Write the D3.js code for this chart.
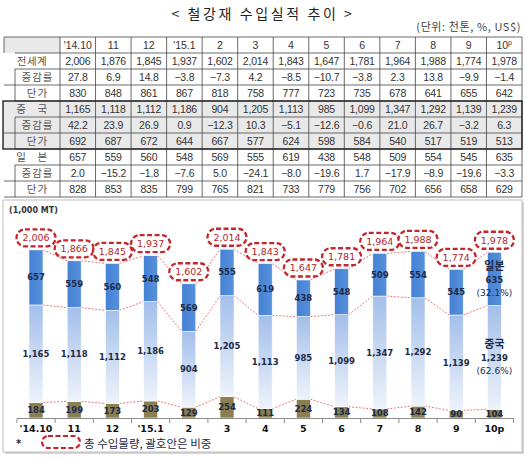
<!DOCTYPE html>
<html>
<head>
<meta charset="utf-8">
<script src="https://cdn.jsdelivr.net/npm/d3@7"></script>
<style>
body { margin: 0; background: #fff; }
svg { display: block; }
</style>
</head>
<body>
<div id="chart"></div>
<script>
/*global d3*/

// ---- data ----
var months = ["'14.10", "11", "12", "'15.1", "2", "3", "4", "5", "6", "7", "8", "9", "10p"];
var tableHeads = ["'14.10", "11", "12", "'15.1", "2", "3", "4", "5", "6", "7", "8", "9", "10"];

var worldVol = [2006, 1876, 1845, 1937, 1602, 2014, 1843, 1647, 1781, 1964, 1988, 1774, 1978];
var worldChg = [27.8, 6.9, 14.8, -3.8, -7.3, 4.2, -8.5, -10.7, -3.8, 2.3, 13.8, -9.9, -1.4];
var worldPrice = [830, 848, 861, 867, 818, 758, 777, 723, 735, 678, 641, 655, 642];

var chinaVol = [1165, 1118, 1112, 1186, 904, 1205, 1113, 985, 1099, 1347, 1292, 1139, 1239];
var chinaChg = [42.2, 23.9, 26.9, 0.9, -12.3, 10.3, -5.1, -12.6, -0.6, 21.0, 26.7, -3.2, 6.3];
var chinaPrice = [692, 687, 672, 644, 667, 577, 624, 598, 584, 540, 517, 519, 513];

var japanVol = [657, 559, 560, 548, 569, 555, 619, 438, 548, 509, 554, 545, 635];
var japanChg = [2.0, -15.2, -1.8, -7.6, 5.0, -24.1, -8.0, -19.6, 1.7, -17.9, -8.9, -19.6, -3.3];
var japanPrice = [828, 853, 835, 799, 765, 821, 733, 779, 756, 702, 656, 658, 629];

// chart only: remaining countries and the circled totals as printed on the chart
var otherVol = [184, 199, 173, 203, 129, 254, 111, 224, 134, 108, 142, 90, 104];
var chartTotal = [2006, 1866, 1845, 1937, 1602, 2014, 1843, 1647, 1781, 1964, 1988, 1774, 1978];

var W = 527, H = 459;
var krFont = "'Noto Sans CJK KR', sans-serif";
var numFont = "'Liberation Sans', Arial, sans-serif";
var barFont = "'DejaVu Sans', Verdana, sans-serif";

var svg = d3.select('#chart').append('svg')
	.attr('width', W).attr('height', H);

var defs = svg.append('defs');

function drawTitle() {
	svg.append('text')
		.attr('x', 263).attr('y', 19)
		.attr('text-anchor', 'middle')
		.style('font-family', krFont).style('font-size', '14px')
		.style('letter-spacing', '2.6px').attr('fill', '#222')
		.text('< 철강재 수입실적 추이 >');

	svg.append('text')
		.attr('x', 521).attr('y', 31)
		.attr('text-anchor', 'end')
		.style('font-family', krFont).style('font-size', '11px')
		.style('letter-spacing', '0.6px')
		.attr('fill', '#444')
		.text('(단위: 천톤, %, US$)');
}

function drawTable() {
	var fVol = d3.format(','), fChg = d3.format('.1f'), fPrice = d3.format('d');
	var rows = [
		{label: '전세계', values: worldVol, fmt: fVol, sub: false},
		{label: '증감률', values: worldChg, fmt: fChg, sub: true},
		{label: '단가', values: worldPrice, fmt: fPrice, sub: true},
		{label: '중　국', values: chinaVol, fmt: fVol, sub: false},
		{label: '증감률', values: chinaChg, fmt: fChg, sub: true},
		{label: '단가', values: chinaPrice, fmt: fPrice, sub: true},
		{label: '일　본', values: japanVol, fmt: fVol, sub: false},
		{label: '증감률', values: japanChg, fmt: fChg, sub: true},
		{label: '단가', values: japanPrice, fmt: fPrice, sub: true}
	];

	var top = 37, rowH = 16, left = 4, labelW = 56, right = 522, subLeft = 15;
	var col = d3.scaleBand().domain(tableHeads.map(function(d, i) { return i; }))
		.range([left + labelW, right]);
	var rowY = function(i) { return top + rowH * (i + 1); };
	var bottom = rowY(rows.length);

	var g = svg.append('g').attr('class', 'table');

	// china block shading
	g.append('rect')
		.attr('x', 3).attr('y', rowY(3))
		.attr('width', right - 3).attr('height', rowH * 3)
		.attr('fill', '#e9e9e9');

	// header label cell
	g.append('rect')
		.attr('x', left).attr('y', top)
		.attr('width', labelW).attr('height', rowH)
		.attr('fill', '#e9e9e9');

	// horizontal lines
	g.append('line').attr('x1', left).attr('x2', right).attr('y1', top).attr('y2', top);
	g.selectAll('line.h').data(rows).enter().append('line')
		.attr('class', 'h')
		.attr('x1', function(d, i) {
			var next = rows[i + 1];
			return (i === rows.length - 1) ? left : (next && next.sub ? subLeft : left);
		})
		.attr('x2', right)
		.attr('y1', function(d, i) { return rowY(i); })
		.attr('y2', function(d, i) { return rowY(i); });
	g.append('line').attr('x1', left).attr('x2', right).attr('y1', bottom).attr('y2', bottom);

	// vertical lines
	g.selectAll('line.v').data(tableHeads).enter().append('line')
		.attr('class', 'v')
		.attr('x1', function(d, i) { return col(i); })
		.attr('x2', function(d, i) { return col(i); })
		.attr('y1', top).attr('y2', bottom);
	g.append('line').attr('x1', left).attr('x2', left).attr('y1', top).attr('y2', top + rowH);
	g.append('line').attr('x1', right).attr('x2', right).attr('y1', top).attr('y2', bottom);

	// sub label boxes
	g.selectAll('line.s').data(rows.filter(function(d) { return d.sub; })).enter().append('line')
		.attr('class', 's')
		.attr('x1', subLeft).attr('x2', subLeft)
		.attr('y1', function(d) { return rowY(rows.indexOf(d)); })
		.attr('y2', function(d) { return rowY(rows.indexOf(d)) + rowH; });

	g.selectAll('line').attr('stroke', '#444').attr('stroke-width', 0.8);

	// china block frame
	g.append('rect')
		.attr('x', 3).attr('y', rowY(3))
		.attr('width', right - 3).attr('height', rowH * 3)
		.attr('fill', 'none').attr('stroke', '#222').attr('stroke-width', 1.4);

	// header texts
	var head = g.selectAll('text.head').data(tableHeads).enter().append('text')
		.attr('class', 'head')
		.attr('x', function(d, i) { return col(i) + col.bandwidth() / 2; })
		.attr('y', top + rowH / 2 + 4)
		.attr('text-anchor', 'middle')
		.style('font-family', numFont).style('font-size', '10.5px')
		.attr('fill', '#333')
		.text(function(d) { return d; });
	head.filter(function(d, i) { return i === tableHeads.length - 1; })
		.append('tspan').attr('dy', -4).style('font-size', '7px').text('p');

	// row labels
	g.selectAll('text.lab').data(rows).enter().append('text')
		.attr('class', 'lab')
		.attr('x', function(d) { return d.sub ? (subLeft + left + labelW) / 2 : left + labelW / 2; })
		.attr('y', function(d, i) { return rowY(i) + rowH / 2 + 4; })
		.attr('text-anchor', 'middle')
		.style('font-family', krFont).style('font-size', '10.5px')
		.style('letter-spacing', function(d) { return d.sub ? '1px' : '0.5px'; })
		.attr('fill', '#555')
		.text(function(d) { return d.label; });

	// cell values
	rows.forEach(function(r, ri) {
		g.selectAll('text.r' + ri).data(r.values).enter().append('text')
			.attr('class', 'r' + ri)
			.attr('x', function(d, i) { return col(i) + col.bandwidth() / 2; })
			.attr('y', rowY(ri) + rowH / 2 + 4)
			.attr('text-anchor', 'middle')
			.style('font-family', numFont).style('font-size', '10.5px')
			.style('letter-spacing', '-0.2px')
			.attr('fill', '#333')
			.text(function(d) { return r.fmt(d); });
	});
}

function drawChart() {
	var panel = {x: 3, y: 200, w: 519, h: 252};
	svg.append('rect')
		.attr('x', panel.x + 2).attr('y', panel.y + 2)
		.attr('width', panel.w).attr('height', panel.h)
		.attr('fill', '#d4d4d4');
	svg.append('rect')
		.attr('x', panel.x).attr('y', panel.y)
		.attr('width', panel.w).attr('height', panel.h)
		.attr('fill', '#fff').attr('stroke', '#bdbdbd').attr('stroke-width', 1);

	svg.append('text')
		.attr('x', 9).attr('y', 213)
		.style('font-family', barFont).style('font-size', '8px').style('font-weight', 'bold')
		.attr('fill', '#333')
		.text('(1,000 MT)');

	var grad = defs.append('linearGradient').attr('id', 'chinaGrad')
		.attr('x1', 0).attr('y1', 0).attr('x2', 0).attr('y2', 1);
	grad.append('stop').attr('offset', '0%').attr('stop-color', '#a3bfea');
	grad.append('stop').attr('offset', '100%').attr('stop-color', '#eef3fb');

	var jGrad = defs.append('linearGradient').attr('id', 'japanGrad')
		.attr('x1', 0).attr('y1', 0).attr('x2', 1).attr('y2', 0);
	jGrad.append('stop').attr('offset', '0%').attr('stop-color', '#4581d4');
	jGrad.append('stop').attr('offset', '100%').attr('stop-color', '#5791dc');

	var x = d3.scaleBand().domain(months)
		.range([16.9, 513.5]).paddingInner(0.633).paddingOuter(0.3165);
	var y = d3.scaleLinear().domain([0, 2500]).range([418, 418 - 2500 * 0.0838]);
	var bw = x.bandwidth();

	var stacks = months.map(function(m, i) {
		var o = otherVol[i], c = chinaVol[i], j = japanVol[i];
		return {
			m: m, i: i,
			segs: [
				{key: 'other', y0: 0, y1: o, v: o},
				{key: 'china', y0: o, y1: o + c, v: c},
				{key: 'japan', y0: o + c, y1: o + c + j, v: j}
			]
		};
	});

	// series lines between bars
	var lines = svg.append('g').attr('class', 'series-lines');
	[0, 1, 2].forEach(function(k) {
		lines.selectAll('line.k' + k).data(stacks.slice(0, -1)).enter().append('line')
			.attr('x1', function(d) { return x(d.m) + bw; })
			.attr('y1', function(d) { return y(d.segs[k].y1); })
			.attr('x2', function(d) { return x(months[d.i + 1]); })
			.attr('y2', function(d) { return y(stacks[d.i + 1].segs[k].y1); })
			.attr('stroke', '#e0575a').attr('stroke-width', 0.8)
			.attr('stroke-dasharray', '2,1.5');
	});

	var fill = {other: '#8b7e50', china: 'url(#chinaGrad)', japan: 'url(#japanGrad)'};

	var bars = svg.append('g').selectAll('g.bar').data(stacks).enter().append('g')
		.attr('class', 'bar');
	bars.selectAll('rect').data(function(d) { return d.segs.map(function(s) { s.m = d.m; return s; }); })
		.enter().append('rect')
		.attr('x', function(s) { return x(s.m); })
		.attr('y', function(s) { return y(s.y1); })
		.attr('width', bw)
		.attr('height', function(s) { return y(s.y0) - y(s.y1); })
		.attr('fill', function(s) { return fill[s.key]; })
		.attr('stroke', '#fff').attr('stroke-width', 0.6);

	// value labels inside segments (last bar handled separately)
	var last = months.length - 1;
	var segLabels = svg.append('g');
	stacks.forEach(function(d) {
		d.segs.forEach(function(s) {
			if (d.i === last && s.key !== 'other') { return; }
			segLabels.append('text')
				.attr('x', x(d.m) + bw / 2)
				.attr('y', (y(s.y0) + y(s.y1)) / 2 + 3)
				.attr('text-anchor', 'middle')
				.style('font-family', barFont).style('font-size', '8.5px').style('font-weight', 'bold')
				.attr('fill', '#1d2b4a')
				.text(d3.format(',')(s.v));
		});
	});

	// last bar: name, value and share
	var fPct = d3.format('.1%');
	var lastTotal = chartTotal[last];
	[{name: '일본', seg: 2, v: japanVol[last]}, {name: '중국', seg: 1, v: chinaVol[last]}].forEach(function(t) {
		var s = stacks[last].segs[t.seg];
		var cy = (y(s.y0) + y(s.y1)) / 2;
		var cx = x(months[last]) + bw / 2;
		segLabels.append('text')
			.attr('x', cx).attr('y', cy - 9)
			.attr('text-anchor', 'middle')
			.style('font-family', krFont).style('font-size', '11px').style('font-weight', 'bold')
			.attr('fill', '#1d2b4a')
			.text(t.name);
		segLabels.append('text')
			.attr('x', cx).attr('y', cy + 4)
			.attr('text-anchor', 'middle')
			.style('font-family', barFont).style('font-size', '8.5px').style('font-weight', 'bold')
			.attr('fill', '#1d2b4a')
			.text(d3.format(',')(t.v));
		segLabels.append('text')
			.attr('x', cx).attr('y', cy + 17)
			.attr('text-anchor', 'middle')
			.style('font-family', barFont).style('font-size', '9px')
			.attr('fill', '#1d2b4a')
			.text('(' + fPct(t.v / lastTotal) + ')');
	});

	// circled totals
	var tot = svg.append('g').selectAll('g.tot').data(stacks).enter().append('g')
		.attr('class', 'tot')
		.attr('transform', function(d) {
			return 'translate(' + (x(d.m) + bw / 2) + ',' + (y(d.segs[2].y1) - 12) + ')';
		});
	tot.append('rect')
		.attr('x', -19.5).attr('y', -8.5).attr('width', 39).attr('height', 17)
		.attr('rx', 8.5).attr('ry', 8.5)
		.attr('fill', '#fff').attr('stroke', '#c1272d').attr('stroke-width', 2.3)
		.attr('stroke-dasharray', '5,2.5');
	tot.append('text')
		.attr('y', 3.5)
		.attr('text-anchor', 'middle')
		.style('font-family', barFont).style('font-size', '9.5px')
		.attr('fill', '#b3262b')
		.text(function(d) { return d3.format(',')(chartTotal[d.i]); });

	// x axis with ticks between categories
	var axis = svg.append('g').attr('class', 'x-axis');
	var x0 = 16.9, x1 = 513.5, step = x.step();
	axis.append('line').attr('x1', x0).attr('x2', x1).attr('y1', 418.5).attr('y2', 418.5)
		.attr('stroke', '#8c8c8c').attr('stroke-width', 1);
	axis.selectAll('line.tick').data(d3.range(months.length + 1)).enter().append('line')
		.attr('class', 'tick')
		.attr('x1', function(i) { return x0 + i * step; })
		.attr('x2', function(i) { return x0 + i * step; })
		.attr('y1', 418.5).attr('y2', 423)
		.attr('stroke', '#8c8c8c').attr('stroke-width', 1);
	axis.selectAll('text').data(months).enter().append('text')
		.attr('x', function(d) { return x(d) + bw / 2; })
		.attr('y', 432)
		.attr('text-anchor', 'middle')
		.style('font-family', barFont).style('font-size', '9.5px').style('font-weight', 'bold')
		.attr('fill', '#111')
		.text(function(d) { return d; });

	// note
	svg.append('text')
		.attr('x', 16).attr('y', 447)
		.style('font-family', barFont).style('font-size', '10px').style('font-weight', 'bold')
		.attr('fill', '#1d2b4a').text('*');
	svg.append('rect')
		.attr('x', 42).attr('y', 436).attr('width', 38).attr('height', 12)
		.attr('rx', 6).attr('ry', 6)
		.attr('fill', '#fff').attr('stroke', '#c1272d').attr('stroke-width', 2.2)
		.attr('stroke-dasharray', '5,2.5');
	svg.append('text')
		.attr('x', 84).attr('y', 448)
		.style('font-family', krFont).style('font-size', '11.5px')
		.attr('fill', '#1d2b4a')
		.text('총 수입물량, 괄호안은 비중');
}

drawTitle();
drawTable();
drawChart();
</script>
</body>
</html>
